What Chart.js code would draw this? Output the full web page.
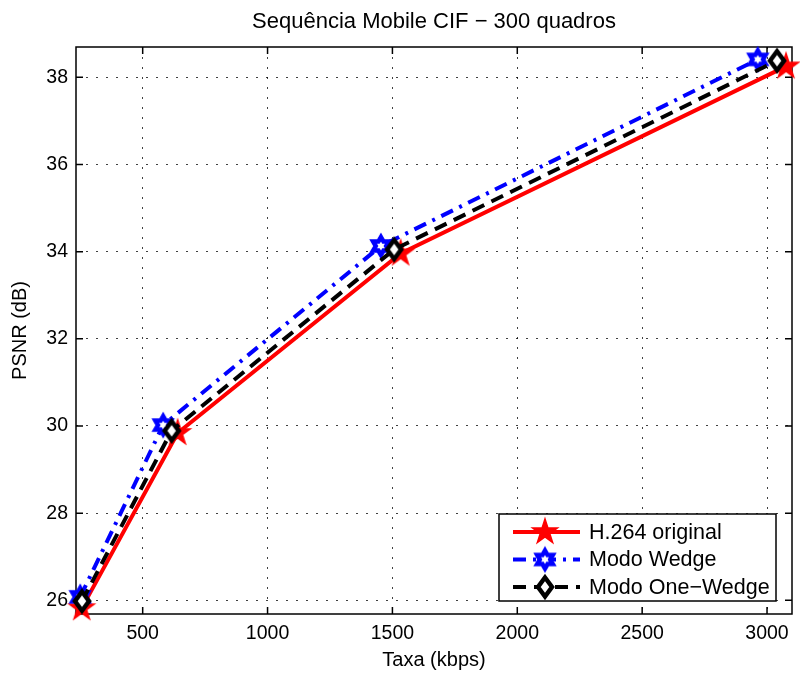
<!DOCTYPE html>
<html>
<head>
<meta charset="utf-8">
<script src="https://cdn.jsdelivr.net/npm/chart.js@4.4.1/dist/chart.umd.min.js"></script>
<style>
  body { margin: 0; background: #fff; }
  #wrap { width: 800px; height: 674px; }
</style>
</head>
<body>
<div id="wrap"><canvas id="psnr-chart" width="800" height="674"></canvas></div>
<script>
// Sequencia Mobile CIF - curvas taxa x PSNR
const chartTitle = 'Sequência Mobile CIF − 300 quadros';
const seriesNames = ['H.264 original', 'Modo Wedge', 'Modo One−Wedge'];

const h264Rate = [256, 640, 1533, 3076];
const h264Psnr = [25.82, 29.84, 33.96, 38.25];
const wedgeRate = [250, 582, 1454, 2963];
const wedgePsnr = [26.08, 30.02, 34.13, 38.41];
const oneWedgeRate = [257, 616, 1507, 3040];
const oneWedgePsnr = [25.98, 29.89, 34.05, 38.38];

const xTicks = [500, 1000, 1500, 2000, 2500, 3000];
const yTicks = [26, 28, 30, 32, 34, 36, 38];

const FONT = '"Liberation Sans", Arial, Helvetica, sans-serif';

function toPoints(xs, ys) {
    return xs.map((x, i) => ({ x, y: ys[i] }));
}

// marker images (matlab-ish pentagram / hexagram / diamond)
function makeMarker(kind, color) {
    const size = 34;
    const c = document.createElement('canvas');
    c.width = size; c.height = size;
    const g = c.getContext('2d');
    g.translate(size / 2, size / 2);
    g.beginPath();
    if (kind === 'pentagram') {
        const R = 13, r = R * 0.382;
        for (let i = 0; i < 10; i++) {
            const a = -Math.PI / 2 + i * Math.PI / 5;
            const rr = i % 2 === 0 ? R : r;
            g.lineTo(rr * Math.cos(a), rr * Math.sin(a));
        }
        g.closePath();
        g.fillStyle = color;
        g.fill();
        g.lineWidth = 1.5; g.strokeStyle = color; g.lineJoin = 'miter';
        g.stroke();
    } else if (kind === 'hexagram') {
        const R = 9, r = R / Math.sqrt(3);
        for (let i = 0; i < 12; i++) {
            const a = -Math.PI / 2 + i * Math.PI / 6;
            const rr = i % 2 === 0 ? R : r;
            g.lineTo(rr * Math.cos(a), rr * Math.sin(a));
        }
        g.closePath();
        g.fillStyle = '#fff';
        g.fill();
        g.lineWidth = 4.5; g.strokeStyle = color; g.lineJoin = 'miter';
        g.stroke();
    } else {
        g.moveTo(0, -9.5); g.lineTo(7, 0); g.lineTo(0, 9.5); g.lineTo(-7, 0);
        g.closePath();
        g.fillStyle = '#fff';
        g.fill();
        g.lineWidth = 4.5; g.strokeStyle = color; g.lineJoin = 'miter';
        g.stroke();
    }
    return c;
}

const markers = [
    makeMarker('pentagram', '#ff0000'),
    makeMarker('hexagram', '#0000ff'),
    makeMarker('diamond', '#000000')
];

// title centred over the plot box, like matlab
const titlePlugin = {
    id: 'plotTitle',
    afterDraw(chart) {
        const { ctx, chartArea } = chart;
        ctx.save();
        ctx.font = `22px ${FONT}`;
        ctx.fillStyle = '#000';
        ctx.textAlign = 'center';
        ctx.textBaseline = 'middle';
        ctx.fillText(chartTitle, (chartArea.left + chartArea.right) / 2, 22);
        ctx.restore();
    }
};

// box + inward ticks on all four sides
const framePlugin = {
    id: 'frame',
    beforeDatasetsDraw(chart) {
        const { ctx, chartArea: a, scales } = chart;
        const tl = 7;
        ctx.save();
        ctx.strokeStyle = '#000';
        ctx.lineWidth = 1.5;
        ctx.setLineDash([]);
        ctx.strokeRect(a.left, a.top, a.right - a.left, a.bottom - a.top);
        ctx.beginPath();
        xTicks.forEach(v => {
            const px = scales.x.getPixelForValue(v);
            ctx.moveTo(px, a.bottom); ctx.lineTo(px, a.bottom - tl);
            ctx.moveTo(px, a.top); ctx.lineTo(px, a.top + tl);
        });
        yTicks.forEach(v => {
            const py = scales.y.getPixelForValue(v);
            ctx.moveTo(a.left, py); ctx.lineTo(a.left + tl, py);
            ctx.moveTo(a.right, py); ctx.lineTo(a.right - tl, py);
        });
        ctx.stroke();
        ctx.restore();
    }
};

// legend box inside the plot, bottom right
const legendPlugin = {
    id: 'boxLegend',
    afterDraw(chart) {
        const { ctx, chartArea: a } = chart;
        const w = 277, h = 87;
        const x0 = a.right - 16 - w;
        const y0 = a.bottom - 13 - h;
        ctx.save();
        ctx.fillStyle = '#fff';
        ctx.fillRect(x0, y0, w, h);
        ctx.strokeStyle = '#000';
        ctx.lineWidth = 1.5;
        ctx.setLineDash([]);
        ctx.strokeRect(x0, y0, w, h);

        ctx.font = `21.5px ${FONT}`;
        ctx.textBaseline = 'middle';
        ctx.textAlign = 'left';
        chart.data.datasets.forEach((ds, i) => {
            const y = y0 + 18 + i * 27.5;
            ctx.beginPath();
            ctx.strokeStyle = ds.borderColor;
            ctx.lineWidth = ds.borderWidth;
            ctx.setLineDash(ds.borderDash || []);
            ctx.moveTo(x0 + 14, y);
            ctx.lineTo(x0 + 81, y);
            ctx.stroke();
            ctx.setLineDash([]);
            const m = ds.pointStyle;
            ctx.drawImage(m, x0 + 46 - m.width / 2, y - m.height / 2);
            ctx.fillStyle = '#000';
            ctx.fillText(seriesNames[i], x0 + 90, y + 1);
        });
        ctx.restore();
    }
};

const datasets = [
    {
        label: seriesNames[0],
        data: toPoints(h264Rate, h264Psnr),
        borderColor: '#ff0000',
        borderWidth: 4,
        borderDash: [],
        pointStyle: markers[0],
        order: 3
    },
    {
        label: seriesNames[1],
        data: toPoints(wedgeRate, wedgePsnr),
        borderColor: '#0000ff',
        borderWidth: 4,
        borderDash: [13, 7, 3, 7],
        pointStyle: markers[1],
        order: 2
    },
    {
        label: seriesNames[2],
        data: toPoints(oneWedgeRate, oneWedgePsnr),
        borderColor: '#000000',
        borderWidth: 4,
        borderDash: [13, 8],
        pointStyle: markers[2],
        order: 1
    }
].map(d => Object.assign(d, { showLine: true, fill: false, tension: 0, clip: false, backgroundColor: d.borderColor }));

const gridStyle = {
    color: 'rgba(0,0,0,0.75)',
    lineWidth: 1,
    drawTicks: false
};

new Chart(document.getElementById('psnr-chart').getContext('2d'), {
    type: 'scatter',
    data: { datasets },
    options: {
        responsive: false,
        animation: false,
        layout: { padding: { top: 47, right: 6, left: 0, bottom: 0 } },
        plugins: {
            legend: { display: false },
            title: { display: false },
            tooltip: { enabled: false }
        },
        scales: {
            x: {
                type: 'linear',
                min: 233,
                max: 3100,
                afterBuildTicks: s => { s.ticks = xTicks.map(v => ({ value: v })); },
                afterFit: s => { s.height = 60; },
                grid: gridStyle,
                border: { display: false, dash: [2, 8] },
                ticks: { font: { family: FONT, size: 19.5 }, color: '#000', padding: 8, maxRotation: 0, callback: v => String(v) },
                title: { display: true, text: 'Taxa (kbps)', font: { family: FONT, size: 20 }, color: '#000', padding: { top: 0, bottom: 2 } }
            },
            y: {
                type: 'linear',
                min: 25.686,
                max: 38.695,
                afterBuildTicks: s => { s.ticks = yTicks.map(v => ({ value: v })); },
                afterFit: s => { s.width = 76; },
                grid: gridStyle,
                border: { display: false, dash: [2, 8] },
                ticks: { font: { family: FONT, size: 19.5 }, color: '#000', padding: 8, callback: v => String(v) },
                title: { display: true, text: 'PSNR (dB)', font: { family: FONT, size: 20 }, color: '#000', padding: { top: 8, bottom: 0 } }
            }
        }
    },
    plugins: [framePlugin, titlePlugin, legendPlugin]
});
</script>
</body>
</html>
